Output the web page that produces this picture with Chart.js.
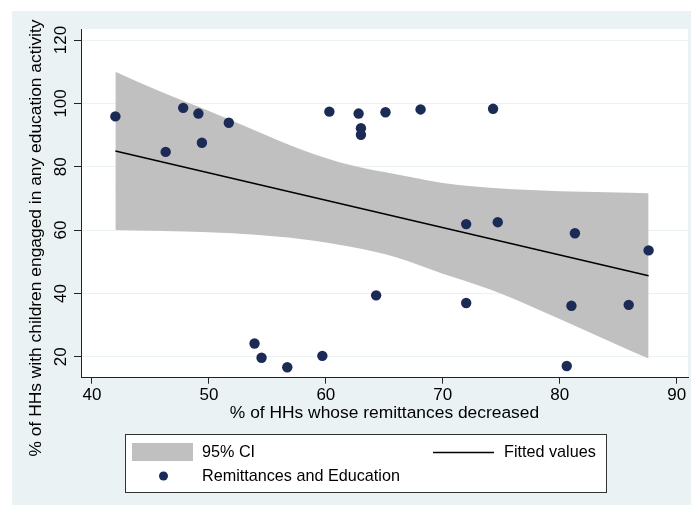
<!DOCTYPE html>
<html>
<head>
<meta charset="utf-8">
<script src="https://cdn.jsdelivr.net/npm/chart.js@4/dist/chart.umd.min.js"></script>
<style>
  html, body { margin: 0; padding: 0; background: #ffffff; }
  canvas { display: block; }
</style>
</head>
<body>
<canvas id="c" width="694" height="509"></canvas>
<script>
// Share of households whose remittances decreased (x) against share with
// children engaged in any education activity (y), one point per community.
const remitDecreased = [42.0, 46.3, 47.8, 49.1, 49.4, 51.7, 53.9, 54.5, 56.7, 59.7, 60.3, 62.8, 63.0,
                        63.0, 64.3, 65.1, 68.1, 72.0, 72.0, 74.3, 74.7, 80.6, 81.0, 81.3, 85.9, 87.6];
const educationActive = [95.9, 84.7, 98.6, 96.8, 87.6, 93.9, 24.2, 19.7, 16.7, 20.3, 97.4, 96.8, 92.2,
                         90.1, 39.4, 97.2, 98.1, 61.9, 37.0, 98.3, 62.5, 17.1, 36.1, 59.0, 36.4, 53.6];

// Linear fit and its 95% confidence band
const fitX = [42.0, 87.6];
const fitY = [85.0, 45.6];
const bandX = [42, 46, 50, 54, 58, 62, 66, 70, 74, 78, 82, 86, 87.6];
const bandUpper = [110.0, 103.5, 97.6, 91.4, 85.3, 80.6, 77.6, 74.9, 73.4, 72.6, 72.1, 71.8, 71.6];
const bandLower = [60.0, 59.7, 59.3, 58.5, 57.1, 54.8, 51.4, 46.2, 41.3, 35.2, 28.6, 22.0, 19.5];

// Axis ticks and titles
const xTicks = [40, 50, 60, 70, 80, 90];
const yTicks = [20, 40, 60, 80, 100, 120];
const xTitle = '% of HHs whose remittances decreased';
const yTitle = '% of HHs with children engaged in any education activity';

// Series labels
const ciLabel = '95% CI';
const fitLabel = 'Fitted values';
const scatterLabel = 'Remittances and Education';

const FONT = '"Liberation Sans", Arial, sans-serif';
const NAVY = '#1c2a56';
const BAND = '#c0c0c0';
const BG = '#eaf2f3';
const AXIS = '#222222';

const toXY = (xs, ys) => xs.map((x, i) => ({ x: x, y: ys[i] }));

const backdrop = {
  id: 'backdrop',
  beforeDraw(chart) {
    const { ctx, chartArea: a } = chart;
    ctx.save();
    ctx.fillStyle = '#ffffff';
    ctx.fillRect(0, 0, chart.width, chart.height);
    ctx.fillStyle = BG;
    ctx.fillRect(12, 11, 679, 494);
    ctx.fillStyle = '#ffffff';
    ctx.fillRect(a.left, a.top, a.right - a.left, a.bottom - a.top);
    ctx.restore();
  }
};

const annotations = {
  id: 'annotations',
  afterDraw(chart) {
    const { ctx, scales: { x, y }, chartArea: a } = chart;
    ctx.save();
    ctx.fillStyle = '#000000';
    ctx.font = '17px ' + FONT;

    // vertical tick labels on the y axis
    yTicks.forEach(v => {
      const py = y.getPixelForValue(v);
      ctx.save();
      ctx.translate(66, py);
      ctx.rotate(-Math.PI / 2);
      ctx.textAlign = 'center';
      ctx.textBaseline = 'alphabetic';
      ctx.fillText(String(v), 0, 0);
      ctx.restore();
    });

    // axis titles
    ctx.font = '17.4px ' + FONT;
    ctx.textAlign = 'center';
    ctx.textBaseline = 'alphabetic';
    ctx.fillText(xTitle, (a.left + a.right) / 2, 418);
    ctx.save();
    ctx.translate(41, 238);
    ctx.rotate(-Math.PI / 2);
    ctx.fillText(yTitle, 0, 0);
    ctx.restore();

    // legend box
    const lx = 125.5, ly = 434.5, lw = 481, lh = 58;
    ctx.fillStyle = '#ffffff';
    ctx.fillRect(lx, ly, lw, lh);
    ctx.strokeStyle = '#333333';
    ctx.lineWidth = 1;
    ctx.strokeRect(lx, ly, lw, lh);

    ctx.fillStyle = BAND;
    ctx.fillRect(132, 443, 61, 18);

    ctx.strokeStyle = '#000000';
    ctx.lineWidth = 1.5;
    ctx.beginPath();
    ctx.moveTo(433, 452.5);
    ctx.lineTo(494, 452.5);
    ctx.stroke();

    ctx.fillStyle = NAVY;
    ctx.beginPath();
    ctx.arc(163.5, 476, 4.5, 0, Math.PI * 2);
    ctx.fill();

    ctx.fillStyle = '#000000';
    ctx.font = '16.2px ' + FONT;
    ctx.textAlign = 'left';
    ctx.fillText(ciLabel, 202, 457);
    ctx.fillText(fitLabel, 504, 457);
    ctx.fillText(scatterLabel, 202, 481);
    ctx.restore();
  }
};

new Chart(document.getElementById('c'), {
  type: 'scatter',
  data: {
    datasets: [
      {
        label: 'lower bound',
        data: toXY(bandX, bandLower),
        showLine: true,
        borderColor: 'transparent',
        borderWidth: 0,
        pointRadius: 0,
        fill: false,
        cubicInterpolationMode: 'monotone',
        order: 3
      },
      {
        label: ciLabel,
        data: toXY(bandX, bandUpper),
        showLine: true,
        borderColor: 'transparent',
        borderWidth: 0,
        pointRadius: 0,
        backgroundColor: BAND,
        fill: '-1',
        cubicInterpolationMode: 'monotone',
        order: 2
      },
      {
        label: fitLabel,
        data: toXY(fitX, fitY),
        showLine: true,
        borderColor: '#000000',
        borderWidth: 1.5,
        pointRadius: 0,
        fill: false,
        order: 1
      },
      {
        label: scatterLabel,
        data: toXY(remitDecreased, educationActive),
        pointRadius: 5.2,
        pointBackgroundColor: NAVY,
        pointBorderWidth: 0,
        borderColor: NAVY,
        order: 0
      }
    ]
  },
  options: {
    responsive: false,
    animation: false,
    devicePixelRatio: 1,
    layout: { padding: { left: 0, top: 29, right: 6, bottom: 0 } },
    plugins: { legend: { display: false }, tooltip: { enabled: false } },
    scales: {
      x: {
        type: 'linear',
        min: 39.06,
        max: 90.97,
        afterBuildTicks: s => { s.ticks = xTicks.map(v => ({ value: v })); },
        afterFit: s => { s.height = 131.3; },
        grid: { drawOnChartArea: false, drawTicks: true, tickLength: 6, tickColor: AXIS, tickWidth: 1 },
        border: { display: true, color: AXIS, width: 1 },
        ticks: {
          color: '#000000',
          font: { family: FONT, size: 17 },
          padding: 1,
          maxRotation: 0,
          callback: v => String(v)
        }
      },
      y: {
        type: 'linear',
        min: 13.4,
        max: 123.5,
        afterBuildTicks: s => { s.ticks = yTicks.map(v => ({ value: v })); },
        afterFit: s => { s.width = 81; },
        grid: { color: BG, lineWidth: 1, drawTicks: true, tickLength: 7, tickColor: AXIS, tickWidth: 1 },
        border: { display: true, color: AXIS, width: 1 },
        ticks: { display: false }
      }
    }
  },
  plugins: [backdrop, annotations]
});
</script>
</body>
</html>
